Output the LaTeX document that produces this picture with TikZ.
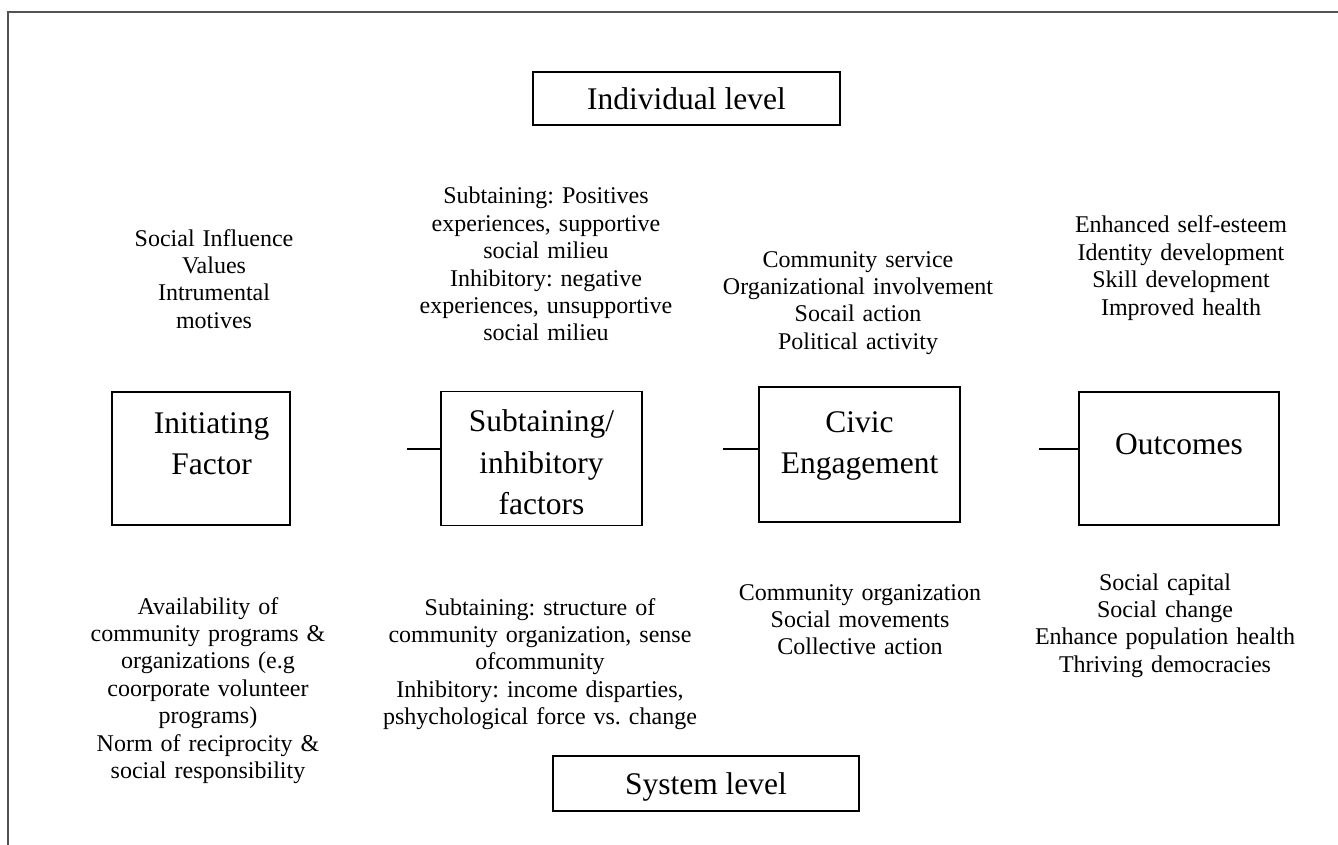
\documentclass[tikz,border=0pt]{standalone}
\usepackage{fontspec}
\setmainfont{Liberation Serif}
\usetikzlibrary{positioning}
\frenchspacing

\begin{document}
\begin{tikzpicture}[x=1pt, y=-1pt, node distance=120pt]
	\tikzstyle{factor} = [rectangle, draw=black, line width=1.1pt, inner sep=0pt, outer sep=0pt, align=center, font=\fontsize{31.5}{41.5}\selectfont];
	\tikzstyle{level} = [rectangle, draw=black, line width=1.1pt, inner sep=0pt, text depth=0pt, font=\fontsize{31.5}{38}\selectfont];
	\tikzstyle{note} = [align=center, text width=340pt, inner sep=0pt, anchor=base, font=\fontsize{24}{27.4}\selectfont];
	\tikzstyle{stub} = [draw=black, line width=1.5pt];
	\tikzstyle{frame} = [draw=black!68, line width=2pt];

	\useasboundingbox (0,0) rectangle (1338,845);
	\draw[frame] (8,845) -- (8,12) -- (1338,12);

	% levels
	\node[level, minimum width=307pt, minimum height=53pt] (individual) at (686.5,98.5) {Individual level};
	\node[level, minimum width=306pt, minimum height=55pt] (system) at (706,783.5) {System level};

	% main row
	\node[factor, text width=178pt, text height=41pt, text depth=92pt, execute at begin node={\leftskip=21pt plus 1fil\rightskip=0pt plus 1fil\parfillskip=0pt}] (initiating) at (201,458.5) {Initiating\\Factor};
	\node[factor, text width=201pt, text height=40pt, text depth=94pt, right=151pt of initiating] (subtaining) {Subtaining/\\inhibitory\\factors};
	\node[factor, text width=201pt, text height=45pt, text depth=90pt, right=117pt of subtaining, yshift=4pt] (civic) {Civic\\Engagement};
	\node[factor, text width=200pt, text height=62pt, text depth=71pt, right=119pt of civic, yshift=-4pt] (outcomes) {Outcomes};

	\coordinate (stub1) at (407,449);
	\coordinate (stub2) at (723,449);
	\coordinate (stub3) at (1039,449);
	\draw[stub] (stub1) -- (stub1 -| subtaining.west);
	\draw[stub] (stub2) -- (stub2 -| civic.west);
	\draw[stub] (stub3) -- (stub3 -| outcomes.west);

	% individual level notes
	\node[note] (influence) at (214,246) {Social Influence\\Values\\Intrumental\\motives};
	\node[note] (positives) at (546,204) {Subtaining: Positives\\experiences, supportive\\social milieu\\Inhibitory: negative\\experiences, unsupportive\\social milieu};
	\node[note] (service) at (858,267) {Community service\\Organizational involvement\\Socail action\\Political activity};
	\node[note] (esteem) at (1181,233) {Enhanced self-esteem\\Identity development\\Skill development\\Improved health};

	% system level notes
	\node[note] (availability) at (208,614) {Availability of\\community programs \&\\organizations (e.g\\coorporate volunteer\\programs)\\Norm of reciprocity \&\\social responsibility};
	\node[note] (structure) at (540,615) {Subtaining: structure of\\community organization, sense\\ofcommunity\\Inhibitory: income disparties,\\pshychological force vs. change};
	\node[note] (organization) at (860,600) {Community organization\\Social movements\\Collective action};
	\node[note] (capital) at (1165,590) {Social capital\\Social change\\Enhance population health\\Thriving democracies};
\end{tikzpicture}
\end{document}
